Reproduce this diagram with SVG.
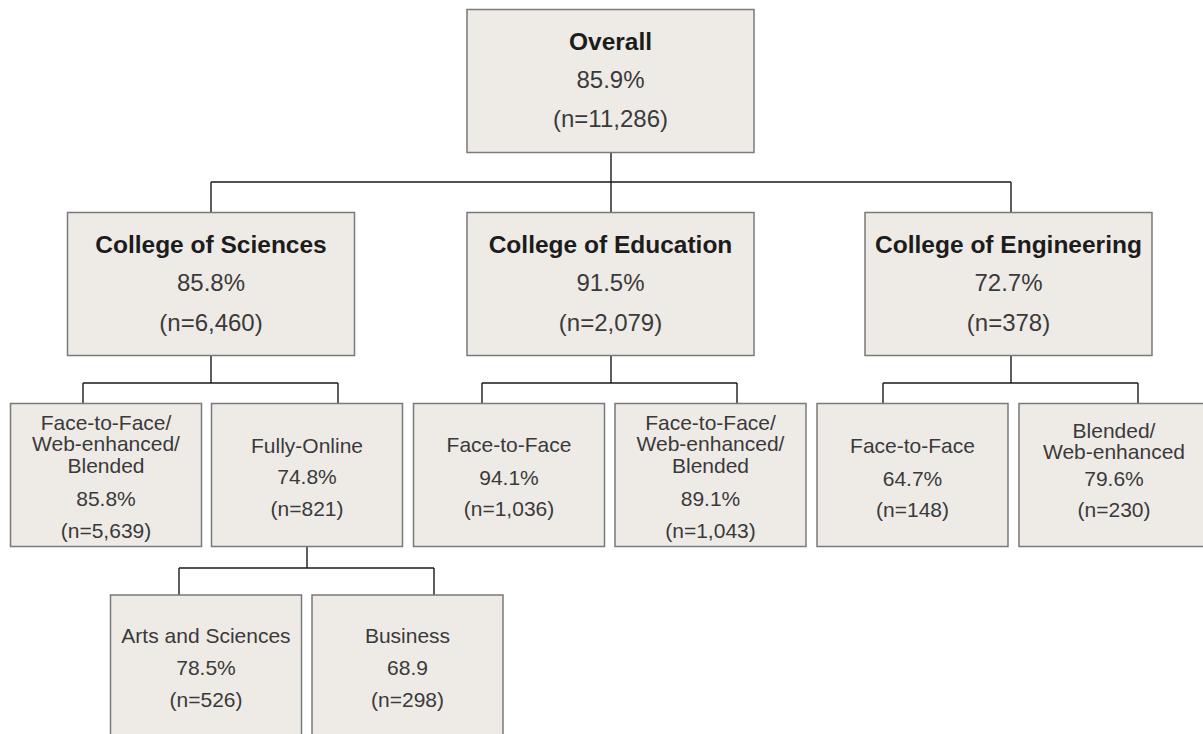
<svg xmlns="http://www.w3.org/2000/svg" width="1203" height="734" viewBox="0 0 1203 734">
<style>
.box{fill:#EEEBE7;stroke:#7a7a7a;stroke-width:1.5}
.con{stroke:#1a1a1a;stroke-width:1.4;fill:none}
text{font-family:"Liberation Sans",Arial,sans-serif;text-anchor:middle;fill:#3a3a3a}
.t{font-size:24.5px;font-weight:bold;fill:#1c1c1c}
.v{font-size:24px}
.s{font-size:21px}
</style>
<rect width="1203" height="734" fill="#ffffff"/>
<g id="connectors">
<path class="con" d="M611,153V182M211,182H1011M211,182V212M611,182V212M1011,182V212"/>
<path class="con" d="M211,356V383M83,383H338M83,383V403M338,383V403"/>
<path class="con" d="M611,356V383M482,383H737M482,383V404M737,383V404"/>
<path class="con" d="M1011,356V383M883,383H1138M883,383V404M1138,383V404"/>
<path class="con" d="M307,547V568M179,568H434M179,568V595M434,568V595"/>
</g>
<g id="overall">
<rect class="box" x="467" y="9.5" width="287" height="143"/>
<text class="t" x="610.5" y="50">Overall</text>
<text class="v" x="610.5" y="88">85.9%</text>
<text class="v" x="610.5" y="127">(n=11,286)</text>
</g>
<g id="sciences">
<rect class="box" x="67.5" y="212.5" width="287" height="143"/>
<text class="t" x="211" y="253">College of Sciences</text>
<text class="v" x="211" y="291">85.8%</text>
<text class="v" x="211" y="331">(n=6,460)</text>
</g>
<g id="education">
<rect class="box" x="467" y="212.5" width="287" height="143"/>
<text class="t" x="610.5" y="253">College of Education</text>
<text class="v" x="610.5" y="291">91.5%</text>
<text class="v" x="610.5" y="331">(n=2,079)</text>
</g>
<g id="engineering">
<rect class="box" x="865" y="212.5" width="287" height="143"/>
<text class="t" x="1008.5" y="253">College of Engineering</text>
<text class="v" x="1008.5" y="291">72.7%</text>
<text class="v" x="1008.5" y="331">(n=378)</text>
</g>
<g id="sci-f2f-web-blended">
<rect class="box" x="10.5" y="403.5" width="191" height="143"/>
<text class="s" x="106" y="429.5">Face-to-Face/</text>
<text class="s" x="106" y="451">Web-enhanced/</text>
<text class="s" x="106" y="472.5">Blended</text>
<text class="s" x="106" y="506">85.8%</text>
<text class="s" x="106" y="538">(n=5,639)</text>
</g>
<g id="sci-fully-online">
<rect class="box" x="211.5" y="403.5" width="191" height="143"/>
<text class="s" x="307" y="453">Fully-Online</text>
<text class="s" x="307" y="484">74.8%</text>
<text class="s" x="307" y="516">(n=821)</text>
</g>
<g id="edu-f2f">
<rect class="box" x="413.5" y="403.5" width="191" height="143"/>
<text class="s" x="509" y="452">Face-to-Face</text>
<text class="s" x="509" y="484.5">94.1%</text>
<text class="s" x="509" y="516">(n=1,036)</text>
</g>
<g id="edu-f2f-web-blended">
<rect class="box" x="615" y="403.5" width="191" height="143"/>
<text class="s" x="710.5" y="429.5">Face-to-Face/</text>
<text class="s" x="710.5" y="451">Web-enhanced/</text>
<text class="s" x="710.5" y="472.5">Blended</text>
<text class="s" x="710.5" y="506">89.1%</text>
<text class="s" x="710.5" y="538">(n=1,043)</text>
</g>
<g id="eng-f2f">
<rect class="box" x="817" y="403.5" width="191" height="143"/>
<text class="s" x="912.5" y="452.5">Face-to-Face</text>
<text class="s" x="912.5" y="485.5">64.7%</text>
<text class="s" x="912.5" y="516.5">(n=148)</text>
</g>
<g id="eng-blended-web">
<rect class="box" x="1019" y="403.5" width="191" height="143"/>
<text class="s" x="1114" y="438">Blended/</text>
<text class="s" x="1114" y="459">Web-enhanced</text>
<text class="s" x="1114" y="485.5">79.6%</text>
<text class="s" x="1114" y="516.5">(n=230)</text>
</g>
<g id="online-arts-sciences">
<rect class="box" x="110.5" y="595" width="191" height="150"/>
<text class="s" x="206" y="642.5">Arts and Sciences</text>
<text class="s" x="206" y="675">78.5%</text>
<text class="s" x="206" y="706.5">(n=526)</text>
</g>
<g id="online-business">
<rect class="box" x="312" y="595" width="191" height="150"/>
<text class="s" x="407.5" y="642.5">Business</text>
<text class="s" x="407.5" y="675">68.9</text>
<text class="s" x="407.5" y="706.5">(n=298)</text>
</g>
</svg>
